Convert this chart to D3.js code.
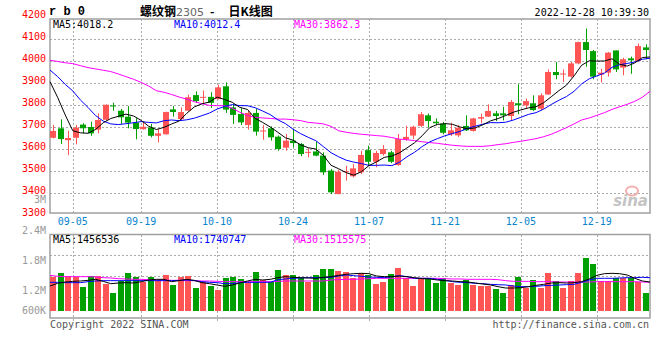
<!DOCTYPE html>
<html><head><meta charset="utf-8">
<script src="https://cdn.jsdelivr.net/npm/d3@7/dist/d3.min.js"></script>
<style>html,body{margin:0;padding:0;background:#fff;}svg{display:block;}</style>
</head><body>
<div id="chart"></div>
<script>
// ---------------- DATA ----------------
const dates = ["08-31","09-01","09-02","09-05","09-06","09-07","09-08","09-09","09-13","09-14","09-15","09-16",
"09-19","09-20","09-21","09-22","09-23","09-26","09-27","09-28","09-29","09-30",
"10-10","10-11","10-12","10-13","10-14","10-17","10-18","10-19","10-20","10-21",
"10-24","10-25","10-26","10-27","10-28","10-31","11-01","11-02","11-03","11-04",
"11-07","11-08","11-09","11-10","11-11","11-14","11-15","11-16","11-17","11-18",
"11-21","11-22","11-23","11-24","11-25","11-28","11-29","11-30","12-01","12-02",
"12-05","12-06","12-07","12-08","12-09","12-12","12-13","12-14","12-15","12-16",
"12-19","12-20","12-21","12-22","12-23","12-26","12-27","12-28"];
const opens = [3651,3694,3640,3651,3711,3700,3688,3733,3798,3774,3747,3720,3690,3698,3660,3667,3780,3736,3774,3845,
3834,3837,3827,3885,3789,3759,3709,3764,3682,3694,3656,3606,3638,3623,3583,3589,3570,3502,3395,3495,
3476,3494,3595,3542,3577,3585,3527,3643,3661,3705,3753,3724,3715,3667,3662,3705,3682,3738,3747,3762,
3762,3750,3808,3798,3808,3783,3848,3950,3941,3929,3989,4086,4045,3938,3947,4048,3970,4012,4000,4062];
const closes = [3682,3645,3650,3697,3694,3671,3732,3801,3795,3744,3720,3691,3701,3660,3671,3768,3768,3768,3835,3818,
3837,3810,3880,3779,3755,3721,3764,3679,3684,3653,3600,3638,3627,3577,3587,3570,3494,3403,3497,3499,
3512,3573,3542,3582,3600,3542,3645,3655,3701,3758,3727,3717,3674,3685,3697,3685,3739,3745,3773,3750,
3753,3814,3799,3818,3777,3844,3950,3936,3943,3989,4086,4050,3929,3947,4038,3962,4008,4003,4068,4050];
const highs = [3709,3735,3683,3709,3717,3724,3762,3803,3810,3782,3795,3740,3724,3714,3690,3770,3795,3789,3847,3862,
3866,3858,3892,3903,3805,3785,3774,3782,3709,3703,3661,3668,3691,3627,3603,3633,3585,3509,3506,3524,
3532,3592,3615,3592,3618,3592,3668,3706,3706,3768,3761,3739,3723,3720,3708,3753,3742,3761,3803,3773,
3792,3823,3894,3829,3844,3853,3962,3995,3962,3995,4088,4148,4050,3965,4041,4048,4015,4020,4080,4076];
const lows = [3648,3623,3572,3621,3671,3660,3671,3730,3774,3714,3694,3644,3688,3653,3630,3665,3747,3732,3772,3810,
3808,3787,3825,3764,3714,3709,3688,3661,3642,3638,3592,3592,3608,3567,3562,3567,3482,3395,3395,3456,
3471,3486,3524,3517,3570,3536,3524,3638,3645,3700,3697,3708,3667,3659,3655,3682,3679,3717,3745,3727,
3730,3727,3758,3783,3773,3777,3846,3917,3905,3924,3985,3974,3917,3902,3929,3950,3935,3942,3998,4008];
const volumes = [1477000,1545000,1491000,1477000,1279000,1491000,1491000,1333000,1160000,1392000,
1545000,1477000,1366000,1477000,1412000,1511000,1313000,1477000,1491000,1259000,
1378000,1299000,1214000,1457000,1477000,1432000,1366000,1564000,1412000,1378000,
1610000,1511000,1511000,1445000,1378000,1511000,1630000,1630000,1590000,1564000,
1457000,1545000,1511000,1333000,1366000,1531000,1655000,1445000,1293000,1445000,
1445000,1358000,1445000,1358000,1313000,1412000,1313000,1293000,1293000,1234000,
1148000,1313000,1465000,1259000,1412000,1259000,1545000,1392000,1259000,1392000,
1545000,1853000,1729000,1398000,1398000,1445000,1445000,1445000,1378000,1148000];
const ma5 = [3906,3835,3755,3683,3673.6,3671.4,3688.8,3719,3738.6,3748.6,3758.4,3750.2,3730.2,3703.2,3688.6,3698.2,3713.6,3727,3762,3791.4,
3805.2,3813.6,3836,3824.8,3812.2,3789,3779.8,3739.6,3720.6,3700.2,3676,3650.8,3640.4,3619,3605.8,3599.8,3571,3526.2,3510.2,3492.6,
3481,3496.8,3524.6,3541.6,3561.8,3567.8,3582.2,3604.8,3628.6,3660.2,3697.2,3711.6,3715.4,3712.2,3700,3691.6,3696,3710.2,3727.8,3738.4,
3752,3767,3777.8,3786.8,3792.2,3810.4,3837.6,3865,3890,3932.4,3980.8,4000.8,3999.4,4000.2,4010,3985.2,3976.8,3991.6,4015.8,4018.2];
const ma10 = [3959,3929,3894,3864,3823,3789,3752,3727,3714,3711.1,3714.9,3719.5,3724.6,3720.9,3718.6,3728.3,3731.9,3728.6,3732.6,3740,
3751.7,3763.6,3781.5,3793.4,3801.8,3797.1,3796.7,3787.8,3772.7,3756.2,3732.5,3715.3,3690,3669.8,3653,3637.9,3610.9,3583.3,3564.6,3549.2,
3540.4,3533.9,3525.4,3525.9,3527.2,3524.4,3539.5,3564.7,3585.1,3611,3632.5,3646.9,3660.1,3670.4,3680.1,3694.4,3703.8,3712.8,3720,3719.2,
3721.8,3731.5,3744,3757.3,3765.3,3781.2,3802.3,3821.4,3838.4,3862.3,3895.6,3919.2,3932.2,3945.1,3971.2,3983,3988.8,3995.5,4008,4012.4];
const ma30 = [4003,3998,3992,3988,3979,3970,3964,3958,3952,3941,3929,3917,3903,3886,3865,3858,3848,3836,3827,3815,
3806,3798,3797,3797,3785,3767,3752,3744,3741,3739,3736,3736,3733,3729,3721,3718,3714,3703,3683,3676,
3671,3667,3664,3661,3658,3652,3645,3642,3638,3633,3629,3626,3621,3617,3614,3612,3612,3612,3615,3620,
3624,3630,3635,3641,3647,3656,3667,3682,3697,3714,3732,3741,3753,3765,3780,3792,3803,3817,3835,3862.3];
const volMa5 = [1293,1346,1372,1385,1392,1405,1425,1385,1339,1352,1359,1352,1379,1412,1425,1425,1379,1399,1425,1405,
1359,1339,1313,1286,1313,1352,1392,1425,1412,1425,1458,1478,1465,1458,1452,1445,1465,1478,1504,1524,
1537,1544,1537,1491,1478,1478,1491,1478,1458,1438,1432,1412,1399,1392,1379,1372,1352,1333,1313,1280,
1253,1253,1260,1280,1306,1326,1352,1359,1352,1359,1379,1432,1504,1537,1544,1537,1511,1445,1392,1372].map(v => v * 1000);
const volMa10 = [1366,1366,1359,1359,1359,1379,1392,1399,1399,1399,1399,1399,1399,1399,1399,1399,1399,1405,1412,1399,
1379,1366,1359,1339,1339,1359,1366,1366,1366,1366,1419,1432,1445,1452,1458,1458,1458,1465,1491,1511,
1498,1485,1471,1465,1458,1478,1498,1478,1445,1445,1445,1425,1405,1379,1366,1359,1346,1339,1326,1319,
1313,1293,1280,1280,1286,1299,1306,1313,1319,1326,1366,1412,1445,1445,1445,1452,1458,1458,1465,1458].map(v => v * 1000);
const volMa30 = [1504,1485,1478,1478,1478,1478,1471,1458,1452,1438,1432,1425,1425,1419,1412,1412,1405,1405,1399,1399,
1392,1392,1385,1379,1379,1379,1379,1379,1379,1379,1385,1392,1392,1392,1392,1392,1392,1412,1419,1425,
1425,1432,1438,1445,1445,1445,1445,1445,1445,1445,1445,1445,1438,1432,1432,1425,1425,1425,1425,1419,
1399,1385,1385,1385,1379,1379,1379,1372,1372,1372,1372,1372,1379,1379,1379,1379,1379,1379,1372,1366].map(v => v * 1000);
const tickDates = ["09-05","09-19","10-10","10-24","11-07","11-21","12-05","12-19"];
const priceTicks = [3300,3400,3500,3600,3700,3800,3900,4000,4100,4200];
const volTicks = [600000,1200000,1800000,2400000,3000000];
const volTickLabels = ["600K","1.2M","1.8M","2.4M","3M"];
const volFloor = 800000;
const maLegend = [
  {text:"MA5:4018.2", color:"#000000"},
  {text:"MA10:4012.4", color:"#0000ff"},
  {text:"MA30:3862.3", color:"#ff00ff"}];
const volLegend = [
  {text:"MA5:1456536", color:"#000000"},
  {text:"MA10:1740747", color:"#0000ff"},
  {text:"MA30:1515575", color:"#ff00ff"}];

// ---------------- LAYOUT ----------------
const W = 660, H = 360;
const L = 50, R = 650, T = 19, B = 213;
const VT = 234.5, VB = 318;
const RED = "#ff5555", GREEN = "#00a000";
const MONO = "'DejaVu Sans Mono', monospace";

const svg = d3.select("#chart").append("svg").attr("width", W).attr("height", H)
  .style("font-family", MONO);
svg.append("rect").attr("width", W).attr("height", H).attr("fill", "#fff");

const xBand = d3.scaleBand().domain(dates).range([49.25, 649.25]);
const xLine = d3.scalePoint().domain(dates).range([L, R]);
const y = d3.scaleLinear().domain([3300, 4200]).range([215, 17]);
const yVol = d3.scaleLinear().domain([600000, 3000000]).range([321, 199.8]);
const cx = d => Math.round(xBand(d) + xBand.bandwidth() / 2) + 0.5;

// grid
const grid = svg.append("g").attr("stroke", "#aaaaaa").attr("stroke-dasharray", "2,2")
  .attr("shape-rendering", "crispEdges");
const xGrid = d3.scaleLinear().domain([0, 79]).range([L, R]);
tickDates.forEach(t => {
  const gx = Math.round(xGrid(dates.indexOf(t))) + 0.5;
  grid.append("line").attr("x1", gx).attr("x2", gx).attr("y1", T).attr("y2", B);
  grid.append("line").attr("x1", gx).attr("x2", gx).attr("y1", VT).attr("y2", VB + 4);
});
priceTicks.filter(p => p > 3300 && p < 4200).forEach(p => {
  const gy = Math.round(y(p)) + 0.5;
  grid.append("line").attr("x1", L).attr("x2", R).attr("y1", gy).attr("y2", gy);
});
[1, 2, 3].forEach(k => {
  const gy = Math.round(VT + (VB - VT) * k / 4) + 0.5;
  grid.append("line").attr("x1", L).attr("x2", R).attr("y1", gy).attr("y2", gy);
});

// frames
[[T, B], [VT, VB]].forEach(([t, b]) => {
  svg.append("rect").attr("x", L).attr("y", t).attr("width", R - L).attr("height", b - t)
    .attr("fill", "none").attr("stroke", "#a0a0a0").attr("stroke-width", 1.5);
});

// sina watermark
const wm = svg.append("g");
wm.append("ellipse").attr("cx", 632).attr("cy", 191).attr("rx", 6).attr("ry", 4.5)
  .attr("fill", "none").attr("stroke", "#f4b0b0").attr("stroke-width", 2);
wm.append("text").attr("x", 648).attr("y", 206).attr("text-anchor", "end")
  .attr("font-family", "'DejaVu Sans', sans-serif").attr("font-style", "italic").attr("font-weight", "bold")
  .attr("font-size", 15).attr("fill", "#c4c4c4").text("sina");

// candles
const candles = svg.append("g");
dates.forEach((d, i) => {
  const up = closes[i] >= opens[i];
  const col = up ? RED : GREEN;
  const x = cx(d);
  candles.append("line").attr("x1", x).attr("x2", x)
    .attr("y1", y(highs[i])).attr("y2", y(lows[i]))
    .attr("stroke", col).attr("stroke-width", 1);
  const top = y(Math.max(opens[i], closes[i])), bot = y(Math.min(opens[i], closes[i]));
  candles.append("rect").attr("x", x - 3.5).attr("y", top)
    .attr("width", 6).attr("height", Math.max(1, bot - top)).attr("fill", col);
});

// price MA lines
const lineGen = d3.line().x((v, i) => xLine(dates[i])).y(v => y(v));
[[ma30, "#ff00ff"], [ma10, "#0000ff"], [ma5, "#000000"]].forEach(([arr, col]) => {
  svg.append("path").attr("d", lineGen(arr)).attr("fill", "none").attr("stroke", col).attr("stroke-width", 1);
});

// volume bars
const vb = svg.append("g").attr("shape-rendering", "crispEdges");
dates.forEach((d, i) => {
  const col = closes[i] >= opens[i] ? RED : GREEN;
  const x = cx(d);
  const top = yVol(volumes[i]);
  vb.append("rect").attr("x", x - 3.5).attr("y", top).attr("width", 6)
    .attr("height", yVol(volFloor) - top).attr("fill", col);
});
const vLine = d3.line().x((v, i) => xLine(dates[i])).y(v => yVol(v));
[[volMa30, "#ff00ff"], [volMa10, "#0000ff"], [volMa5, "#000000"]].forEach(([arr, col]) => {
  svg.append("path").attr("d", vLine(arr)).attr("fill", "none").attr("stroke", col).attr("stroke-width", 1);
});

// price axis labels
priceTicks.forEach(p => {
  svg.append("text").attr("x", 46).attr("y", y(p) - 3).attr("text-anchor", "end")
    .attr("dominant-baseline", "central").attr("font-size", 10).attr("fill", "#ff0000").text(p);
});
// volume axis labels
volTicks.forEach((v, k) => {
  const yy = Math.min(yVol(v), yVol(volFloor));
  svg.append("text").attr("x", 46).attr("y", yy).attr("text-anchor", "end")
    .attr("dominant-baseline", "central").attr("font-size", 10).attr("fill", "#999999").text(volTickLabels[k]);
});
// date labels
tickDates.forEach(t => {
  svg.append("text").attr("x", xGrid(dates.indexOf(t))).attr("y", 221.5).attr("text-anchor", "middle")
    .attr("dominant-baseline", "central").attr("font-size", 10).attr("fill", "#0a84cc").text(t);
});

// legends
const legX = [53, 174, 294];
maLegend.forEach((m, k) => {
  svg.append("text").attr("x", legX[k]).attr("y", 24.5).attr("dominant-baseline", "central")
    .attr("font-size", 10).attr("fill", m.color).text(m.text);
});
volLegend.forEach((m, k) => {
  svg.append("text").attr("x", legX[k]).attr("y", 239.5).attr("dominant-baseline", "central")
    .attr("font-size", 10).attr("fill", m.color).text(m.text);
});

// title
svg.append("text").attr("x", 49).attr("y", 15).attr("font-family", "'Liberation Mono', monospace")
  .attr("font-weight", "bold").attr("font-size", 12).attr("fill", "#000").text("r b 0");
const title = svg.append("text").attr("x", 140).attr("y", 16)
  .attr("font-family", "'Noto Sans CJK SC', sans-serif").attr("font-size", 12).attr("fill", "#000");
title.append("tspan").attr("font-weight", "bold").text("螺纹钢");
title.append("tspan").attr("fill", "#666").attr("font-family", "'DejaVu Sans', sans-serif").attr("font-size", 11).text("2305");
title.append("tspan").attr("font-weight", "bold").attr("dx", 6).text("-");
title.append("tspan").attr("font-weight", "bold").attr("dx", 14).text("日K线图");
svg.append("text").attr("x", 649).attr("y", 12).attr("text-anchor", "end").attr("dominant-baseline", "central")
  .attr("font-size", 10).attr("fill", "#000").text("2022-12-28 10:39:30");

// footer
svg.append("text").attr("x", 50).attr("y", 324).attr("dominant-baseline", "central")
  .attr("font-size", 10).attr("fill", "#555").text("Copyright 2022 SINA.COM");
svg.append("text").attr("x", 649).attr("y", 324).attr("text-anchor", "end").attr("dominant-baseline", "central")
  .attr("font-size", 10).attr("fill", "#555").text("http://finance.sina.com.cn");
</script>
</body></html>
